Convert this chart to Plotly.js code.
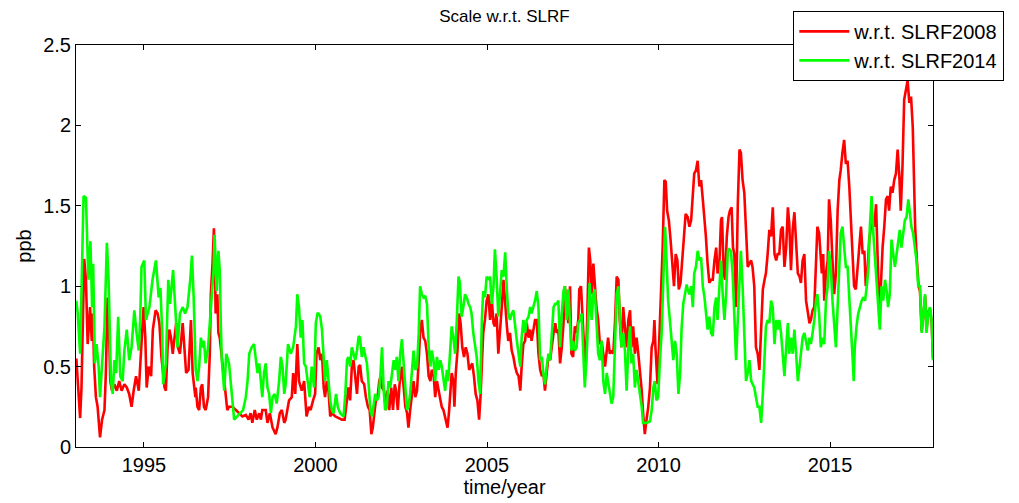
<!DOCTYPE html>
<html>
<head>
<meta charset="utf-8">
<script src="https://cdn.plot.ly/plotly-3.0.1.min.js"></script>
<style>
  html, body { margin: 0; padding: 0; background: #fff; }
  #chart { width: 1019px; height: 503px; }
</style>
</head>
<body>
<div id="chart"></div>
<script>
// scale differences (ppb)
var yearsSlrf2008 = [
  1993.03, 1993.07, 1993.14, 1993.18, 1993.26, 1993.31, 1993.36, 1993.43, 1993.48, 1993.51,
  1993.55, 1993.60, 1993.65, 1993.72, 1993.78, 1993.85, 1993.89, 1993.94, 1993.97, 1994.02,
  1994.07, 1994.14, 1994.21, 1994.28, 1994.35, 1994.43, 1994.50, 1994.57, 1994.64, 1994.70,
  1994.77, 1994.85, 1994.91, 1994.99, 1995.04, 1995.08, 1995.14, 1995.21, 1995.26, 1995.34,
  1995.40, 1995.45, 1995.51, 1995.60, 1995.64, 1995.69, 1995.74, 1995.79, 1995.84, 1995.89,
  1995.94, 1995.99, 1996.05, 1996.13, 1996.18, 1996.23, 1996.30, 1996.37, 1996.42, 1996.50,
  1996.51, 1996.56, 1996.61, 1996.66, 1996.70, 1996.75, 1996.80, 1996.87, 1996.92, 1996.95,
  1997.00, 1997.04, 1997.07, 1997.09, 1997.14, 1997.17, 1997.21, 1997.27, 1997.32, 1997.38,
  1997.43, 1997.48, 1997.58, 1997.68, 1997.77, 1997.87, 1997.97, 1998.05, 1998.11, 1998.16,
  1998.23, 1998.29, 1998.36, 1998.41, 1998.45, 1998.55, 1998.60, 1998.67, 1998.75, 1998.84,
  1998.89, 1998.96, 1999.02, 1999.09, 1999.13, 1999.18, 1999.23, 1999.31, 1999.35, 1999.41,
  1999.47, 1999.52, 1999.60, 1999.67, 1999.74, 1999.81, 1999.86, 1999.93, 1999.99, 2000.03,
  2000.09,
  2000.14, 2000.19, 2000.24, 2000.28, 2000.33, 2000.38, 2000.43, 2000.48, 2000.58, 2000.67,
  2000.77, 2000.85, 2000.92, 2000.96, 2001.01, 2001.06, 2001.11, 2001.16, 2001.21, 2001.26,
  2001.30, 2001.35, 2001.42, 2001.47, 2001.53, 2001.58, 2001.63, 2001.67, 2001.72, 2001.76,
  2001.81, 2001.86, 2001.90, 2001.94, 2002.00, 2002.05, 2002.10, 2002.15, 2002.21, 2002.26,
  2002.31, 2002.35, 2002.40, 2002.45, 2002.52, 2002.57, 2002.62, 2002.67, 2002.71, 2002.76,
  2002.81, 2002.86, 2002.91, 2002.96, 2003.01, 2003.05, 2003.10, 2003.15, 2003.20, 2003.25,
  2003.30, 2003.35, 2003.39, 2003.44, 2003.49, 2003.54, 2003.61,
  2003.68, 2003.73, 2003.80, 2003.85, 2003.89, 2003.94, 2003.97, 2004.02, 2004.05, 2004.09,
  2004.14, 2004.19, 2004.23, 2004.28, 2004.33, 2004.38, 2004.43, 2004.48, 2004.53, 2004.57,
  2004.62, 2004.67, 2004.72, 2004.77, 2004.81, 2004.85, 2004.89, 2004.94, 2004.99, 2005.04,
  2005.09, 2005.14, 2005.19, 2005.23, 2005.28, 2005.33, 2005.38, 2005.43, 2005.48, 2005.53,
  2005.58, 2005.62, 2005.67, 2005.72, 2005.77, 2005.82, 2005.87, 2005.92, 2005.97, 2006.01,
  2006.06, 2006.11, 2006.16, 2006.21, 2006.26, 2006.30, 2006.35, 2006.40, 2006.45, 2006.50,
  2006.55, 2006.60, 2006.64, 2006.69, 2006.74, 2006.79, 2006.84, 2006.89, 2006.94, 2006.99,
  2007.03, 2007.08, 2007.13, 2007.18, 2007.23,
  2007.27, 2007.32, 2007.37, 2007.42, 2007.46, 2007.51, 2007.56, 2007.61, 2007.66, 2007.69,
  2007.74, 2007.78, 2007.82, 2007.87, 2007.92, 2007.97, 2008.01, 2008.05, 2008.10, 2008.14,
  2008.19, 2008.24, 2008.29, 2008.34, 2008.39, 2008.44, 2008.49, 2008.53, 2008.58, 2008.63,
  2008.68, 2008.73, 2008.78, 2008.83, 2008.87, 2008.92, 2008.97, 2009.02, 2009.07, 2009.12,
  2009.17, 2009.21, 2009.26, 2009.31, 2009.36, 2009.41, 2009.46, 2009.51, 2009.55, 2009.60,
  2009.65, 2009.70, 2009.75, 2009.80, 2009.85, 2009.88, 2009.91, 2009.97, 2010.02, 2010.07,
  2010.12, 2010.17, 2010.21, 2010.25, 2010.30, 2010.35, 2010.40, 2010.45, 2010.50, 2010.55,
  2010.59, 2010.64, 2010.69, 2010.74, 2010.79,
  2010.85, 2010.90, 2010.95, 2011.00, 2011.04, 2011.09, 2011.14, 2011.19, 2011.24, 2011.29,
  2011.34, 2011.38, 2011.43, 2011.48, 2011.53, 2011.58, 2011.63, 2011.68, 2011.72, 2011.77,
  2011.82, 2011.85, 2011.90, 2011.94, 2011.99, 2012.04, 2012.08, 2012.13, 2012.17, 2012.21,
  2012.26, 2012.31, 2012.36, 2012.40, 2012.45, 2012.50, 2012.55, 2012.60, 2012.65, 2012.70,
  2012.74, 2012.79, 2012.84, 2012.89, 2012.94, 2012.99, 2013.04, 2013.09, 2013.13, 2013.18,
  2013.23, 2013.28, 2013.33, 2013.38, 2013.43, 2013.47, 2013.52, 2013.57, 2013.62, 2013.67,
  2013.72, 2013.77, 2013.81, 2013.86, 2013.91, 2013.96, 2014.01, 2014.06, 2014.11, 2014.15,
  2014.20, 2014.25, 2014.30, 2014.35, 2014.40,
  2014.44, 2014.49, 2014.54, 2014.59, 2014.63, 2014.68, 2014.73, 2014.76, 2014.80, 2014.83,
  2014.88, 2014.93, 2014.97, 2015.02, 2015.07, 2015.12, 2015.17, 2015.22, 2015.27, 2015.31,
  2015.36, 2015.41, 2015.46, 2015.51, 2015.56, 2015.61, 2015.66, 2015.70, 2015.75, 2015.80,
  2015.85, 2015.90, 2015.95, 2016.00, 2016.04, 2016.09, 2016.14, 2016.19, 2016.24, 2016.29,
  2016.34, 2016.38, 2016.43, 2016.48, 2016.53, 2016.58, 2016.63, 2016.68, 2016.72, 2016.77,
  2016.82, 2016.87, 2016.92, 2016.97, 2017.02, 2017.06, 2017.11, 2017.16, 2017.21, 2017.26,
  2017.31, 2017.36, 2017.41, 2017.45, 2017.48, 2017.53, 2017.58, 2017.62, 2017.67, 2017.72,
  2017.77, 2017.81, 2017.86, 2017.91, 2017.96, 2018.00
];
var ppbSlrf2008 = [
  0.55, 0.41, 0.18, 0.37, 1.17, 1.04, 0.64, 0.87, 0.66, 0.83,
  0.50, 0.31, 0.25, 0.06, 0.17, 0.23, 0.46, 0.93, 0.83, 0.41,
  0.35, 0.39, 0.35, 0.41, 0.35, 0.39, 0.37, 0.33, 0.25, 0.35,
  0.44, 0.35, 0.58, 0.87, 0.68, 0.37, 0.50, 0.44, 0.73, 0.85,
  0.83, 0.77, 0.56, 0.37, 0.35, 0.62, 0.73, 0.68, 0.58, 0.66,
  0.77, 0.62, 0.58, 0.77, 0.62, 0.46, 0.48, 0.79, 0.46, 0.31,
  0.37, 0.25, 0.23, 0.37, 0.39, 0.25, 0.23, 0.31, 0.58, 0.95,
  1.14, 1.36, 1.14, 0.83, 0.95, 0.71, 0.68, 0.56, 0.48, 0.33,
  0.23, 0.25, 0.25, 0.23, 0.21, 0.19, 0.20, 0.17, 0.21, 0.15,
  0.23, 0.17, 0.21, 0.17, 0.23, 0.23, 0.15, 0.21, 0.12, 0.08,
  0.12, 0.21, 0.23, 0.15, 0.17, 0.23, 0.29, 0.31, 0.46, 0.33,
  0.64, 0.41, 0.35, 0.41, 0.19, 0.25, 0.23, 0.29, 0.33, 0.58,
  0.62,
  0.54, 0.58, 0.37, 0.31, 0.41, 0.35, 0.19, 0.21, 0.19, 0.18,
  0.17, 0.17, 0.31, 0.37, 0.29, 0.50, 0.54, 0.41, 0.33, 0.50,
  0.51, 0.41, 0.39, 0.31, 0.25, 0.23, 0.08, 0.12, 0.21, 0.29,
  0.31, 0.41, 0.44, 0.37, 0.35, 0.23, 0.35, 0.23, 0.37, 0.23,
  0.39, 0.35, 0.23, 0.39, 0.50, 0.39, 0.25, 0.21, 0.12, 0.23,
  0.31, 0.41, 0.31, 0.35, 0.54, 0.71, 0.79, 0.68, 0.66, 0.58,
  0.44, 0.41, 0.48, 0.46, 0.31, 0.41, 0.33,
  0.25, 0.23, 0.17, 0.12, 0.21, 0.37, 0.46, 0.41, 0.25, 0.46,
  0.60, 0.83, 0.77, 0.62, 0.56, 0.62, 0.58, 0.48, 0.50, 0.52,
  0.44, 0.33, 0.29, 0.17, 0.31, 0.50, 0.71, 0.79, 0.91, 0.95,
  0.79, 0.91, 0.77, 0.75, 0.83, 0.58, 0.71, 0.87, 1.04, 0.87,
  0.75, 0.66, 0.71, 0.60, 0.56, 0.50, 0.46, 0.44, 0.35, 0.50,
  0.64, 0.66, 0.77, 0.68, 0.73, 0.66, 0.73, 0.79, 0.79, 0.58,
  0.48, 0.44, 0.46, 0.35, 0.46, 0.56, 0.54, 0.64, 0.71, 0.77,
  0.71, 0.73, 0.52, 0.62, 0.77,
  1.00, 0.87, 0.77, 1.00, 0.58, 0.56, 0.75, 0.71, 0.79, 0.98,
  1.00, 0.83, 0.62, 0.46, 0.79, 1.24, 1.16, 0.95, 1.14, 1.00,
  0.87, 0.79, 0.64, 0.66, 0.58, 0.50, 0.60, 0.68, 0.58, 0.60,
  0.58, 0.77, 1.06, 1.04, 0.79, 0.62, 0.87, 0.75, 0.62, 0.79,
  0.85, 0.62, 0.75, 0.58, 0.68, 0.58, 0.48, 0.35, 0.21, 0.08,
  0.17, 0.25, 0.37, 0.62, 0.66, 0.79, 0.62, 0.39, 0.66, 0.95,
  1.24, 1.66, 1.65, 1.47, 1.41, 1.29, 1.14, 1.00, 1.20, 1.16,
  0.98, 1.02, 1.16, 1.33, 1.45,
  1.43, 1.37, 1.41, 1.58, 1.70, 1.72, 1.78, 1.62, 1.66, 1.54,
  1.43, 1.31, 1.14, 1.02, 1.04, 1.04, 1.16, 1.24, 1.08, 1.12,
  1.41, 1.43, 1.08, 1.04, 1.31, 1.43, 1.47, 1.49, 1.24, 1.20,
  0.87, 1.51, 1.85, 1.83, 1.66, 1.58, 1.35, 1.12, 1.14, 1.16,
  1.12, 1.00, 0.62, 0.58, 0.48, 0.79, 0.98, 1.04, 1.08, 1.20,
  1.35, 1.31, 1.49, 1.20, 1.16, 1.20, 1.20, 1.35, 1.37, 1.12,
  1.24, 1.49, 1.39, 1.10, 1.35, 1.46, 1.29, 1.08, 1.06, 1.02,
  1.16, 1.20, 0.91, 0.83, 0.77,
  0.79, 0.85, 0.87, 1.16, 1.37, 1.33, 1.20, 1.08, 1.20, 0.91,
  1.08, 1.16, 1.54, 1.41, 1.16, 0.95, 1.08, 1.47, 1.66, 1.72,
  1.83, 1.91, 1.76, 1.78, 1.62, 1.37, 1.16, 1.00, 0.98, 1.12,
  1.24, 1.37, 1.20, 1.22, 1.00, 1.08, 1.29, 1.37, 1.39, 1.37,
  1.51, 1.16, 0.87, 1.00, 1.24, 1.37, 1.54, 1.56, 1.47, 1.62,
  1.58, 1.66, 1.70, 1.85, 1.68, 1.47, 1.74, 2.16, 2.22, 2.28,
  2.14, 2.18, 1.99, 1.58, 1.37, 1.16, 1.00, 0.97, 0.72, 0.83,
  0.94, 0.72, 0.84, 0.86, 0.78, 0.55
];

var yearsSlrf2014 = [
  1993.03, 1993.07, 1993.14, 1993.18, 1993.24, 1993.31, 1993.38, 1993.44, 1993.49, 1993.52,
  1993.57, 1993.62, 1993.68, 1993.72, 1993.78, 1993.85, 1993.92, 1993.97, 1994.04, 1994.09,
  1994.14, 1994.19, 1994.25, 1994.31, 1994.38, 1994.43, 1994.50, 1994.57, 1994.64, 1994.72,
  1994.79, 1994.85, 1994.89, 1994.93, 1995.01, 1995.06, 1995.16, 1995.25, 1995.35, 1995.43,
  1995.48, 1995.53, 1995.56, 1995.64, 1995.71, 1995.76, 1995.85, 1995.90, 1995.98, 1996.05,
  1996.13, 1996.20, 1996.27, 1996.35, 1996.40, 1996.45,
  1996.51, 1996.56, 1996.61, 1996.66, 1996.70, 1996.75, 1996.80, 1996.87, 1996.92, 1996.98,
  1997.03, 1997.06, 1997.09, 1997.12, 1997.17, 1997.21, 1997.24, 1997.27, 1997.34, 1997.40,
  1997.48, 1997.56, 1997.63, 1997.72, 1997.82, 1997.89, 1997.97, 1998.02, 1998.07, 1998.14,
  1998.21, 1998.26, 1998.31, 1998.36, 1998.41, 1998.45, 1998.50, 1998.55, 1998.60, 1998.65,
  1998.70, 1998.75, 1998.81, 1998.87, 1998.94, 1998.99, 1999.04, 1999.09, 1999.13, 1999.20,
  1999.28, 1999.35, 1999.43, 1999.47, 1999.52, 1999.57, 1999.62, 1999.67, 1999.72, 1999.79,
  1999.83, 1999.89, 1999.96, 2000.01, 2000.06,
  2000.09, 2000.14, 2000.19, 2000.24, 2000.28, 2000.33, 2000.38, 2000.43, 2000.48, 2000.53,
  2000.60, 2000.65, 2000.72, 2000.82, 2000.87, 2000.92, 2000.96, 2001.01, 2001.06, 2001.11,
  2001.16, 2001.21, 2001.26, 2001.30, 2001.35, 2001.40, 2001.45, 2001.50, 2001.55, 2001.60,
  2001.65, 2001.69, 2001.74, 2001.79, 2001.84, 2001.89, 2001.94, 2001.99, 2002.03, 2002.08,
  2002.13, 2002.18, 2002.23, 2002.28, 2002.33, 2002.37, 2002.42, 2002.47, 2002.52, 2002.57,
  2002.62, 2002.67, 2002.71, 2002.76, 2002.81, 2002.86, 2002.91, 2002.96, 2003.01, 2003.05,
  2003.10, 2003.15, 2003.20, 2003.25, 2003.30, 2003.35, 2003.39, 2003.44, 2003.49, 2003.54,
  2003.59, 2003.64,
  2003.68, 2003.73, 2003.78, 2003.83, 2003.87, 2003.92, 2003.97, 2004.02, 2004.07, 2004.12,
  2004.17, 2004.21, 2004.26, 2004.31, 2004.36, 2004.41, 2004.46, 2004.51, 2004.55, 2004.60,
  2004.65, 2004.70, 2004.75, 2004.80, 2004.85, 2004.89, 2004.94, 2004.99, 2005.04, 2005.09,
  2005.14, 2005.19, 2005.23, 2005.28, 2005.33, 2005.38, 2005.43, 2005.48, 2005.53, 2005.58,
  2005.62, 2005.67, 2005.72, 2005.77, 2005.82, 2005.87, 2005.92, 2005.97, 2006.01, 2006.06,
  2006.11, 2006.16, 2006.21, 2006.26, 2006.30, 2006.35, 2006.40, 2006.45, 2006.50, 2006.55,
  2006.60, 2006.64, 2006.69, 2006.74, 2006.79, 2006.84, 2006.89, 2006.94, 2006.99, 2007.03,
  2007.08, 2007.13, 2007.18, 2007.23,
  2007.27, 2007.32, 2007.37, 2007.42, 2007.46, 2007.51, 2007.56, 2007.61, 2007.66, 2007.71,
  2007.76, 2007.80, 2007.85, 2007.90, 2007.95, 2007.99, 2008.05, 2008.10, 2008.14, 2008.19,
  2008.24, 2008.29, 2008.34, 2008.39, 2008.44, 2008.49, 2008.53, 2008.58, 2008.63, 2008.68,
  2008.73, 2008.78, 2008.83, 2008.87, 2008.92, 2008.97, 2009.02, 2009.07, 2009.12, 2009.17,
  2009.21, 2009.26, 2009.31, 2009.36, 2009.41, 2009.46, 2009.51, 2009.55, 2009.65, 2009.75,
  2009.80, 2009.85, 2009.89, 2009.94, 2009.99, 2010.04, 2010.09, 2010.14, 2010.19, 2010.23,
  2010.28, 2010.33, 2010.38, 2010.43, 2010.48, 2010.53, 2010.58, 2010.63, 2010.67, 2010.72,
  2010.77, 2010.82,
  2010.85, 2010.90, 2010.95, 2011.00, 2011.04, 2011.09, 2011.14, 2011.19, 2011.24, 2011.29,
  2011.34, 2011.38, 2011.43, 2011.48, 2011.53, 2011.58, 2011.63, 2011.68, 2011.72, 2011.77,
  2011.82, 2011.87, 2011.92, 2011.97, 2012.02, 2012.06, 2012.11, 2012.16, 2012.21, 2012.26,
  2012.31, 2012.36, 2012.40, 2012.45, 2012.50, 2012.55, 2012.60, 2012.65, 2012.70, 2012.74,
  2012.79, 2012.84, 2012.89, 2012.94, 2012.99, 2013.04, 2013.09, 2013.13, 2013.18, 2013.23,
  2013.28, 2013.33, 2013.38, 2013.43, 2013.47, 2013.52, 2013.57, 2013.62, 2013.67, 2013.72,
  2013.77, 2013.81, 2013.86, 2013.91, 2013.96, 2014.01, 2014.06, 2014.11, 2014.15, 2014.20,
  2014.25, 2014.30, 2014.35, 2014.40,
  2014.44, 2014.49, 2014.54, 2014.59, 2014.63, 2014.68, 2014.73, 2014.78, 2014.83, 2014.88,
  2014.93, 2014.97, 2015.02, 2015.07, 2015.12, 2015.17, 2015.22, 2015.27, 2015.31, 2015.36,
  2015.41, 2015.46, 2015.51, 2015.56, 2015.61, 2015.66, 2015.69, 2015.72, 2015.77, 2015.82,
  2015.87, 2015.92, 2015.97, 2016.02, 2016.07, 2016.12, 2016.16, 2016.21, 2016.26, 2016.31,
  2016.36, 2016.40, 2016.45, 2016.50, 2016.55, 2016.60, 2016.65, 2016.69, 2016.74, 2016.79,
  2016.84, 2016.89, 2016.94, 2016.99, 2017.03, 2017.08, 2017.13, 2017.18, 2017.23, 2017.28,
  2017.33, 2017.37, 2017.42, 2017.47, 2017.52, 2017.57, 2017.62, 2017.67, 2017.72, 2017.77,
  2017.81, 2017.86, 2017.91, 2017.96, 2018.00
];
var ppbSlrf2014 = [
  0.91, 0.83, 0.58, 0.97, 1.56, 1.55, 1.04, 1.28, 0.87, 1.14,
  0.52, 0.64, 0.50, 0.31, 0.50, 0.75, 1.27, 1.04, 0.41, 0.33,
  0.54, 0.46, 0.81, 0.44, 0.41, 0.60, 0.73, 0.54, 0.62, 0.85,
  0.70, 0.60, 0.79, 1.12, 1.16, 0.79, 0.87, 1.04, 1.16, 0.93,
  0.99, 0.73, 0.39, 0.52, 1.04, 0.89, 1.10, 0.93, 0.62, 0.83,
  0.87, 0.83, 0.87, 1.04, 1.19, 0.93,
  0.48, 0.41, 0.50, 0.68, 0.62, 0.66, 0.52, 0.62, 0.79, 0.97,
  1.10, 1.32, 1.18, 0.97, 1.22, 1.10, 0.77, 0.54, 0.35, 0.58,
  0.52, 0.31, 0.17, 0.19, 0.21, 0.23, 0.31, 0.41, 0.58, 0.62,
  0.64, 0.54, 0.46, 0.52, 0.41, 0.31, 0.46, 0.52, 0.37, 0.33,
  0.21, 0.31, 0.33, 0.27, 0.41, 0.56, 0.50, 0.33, 0.39, 0.64,
  0.58, 0.62, 0.75, 0.95, 0.87, 0.68, 0.79, 0.52, 0.50, 0.39,
  0.31, 0.50, 0.37, 0.77, 0.83,
  0.83, 0.81, 0.73, 0.54, 0.41, 0.54, 0.41, 0.29, 0.23, 0.21,
  0.33, 0.25, 0.21, 0.19, 0.33, 0.54, 0.56, 0.50, 0.62, 0.58,
  0.54, 0.60, 0.69, 0.68, 0.56, 0.62, 0.56, 0.52, 0.39, 0.23,
  0.19, 0.25, 0.33, 0.29, 0.31, 0.44, 0.62, 0.35, 0.23, 0.25,
  0.41, 0.37, 0.46, 0.54, 0.48, 0.56, 0.41, 0.58, 0.67, 0.48,
  0.37, 0.23, 0.25, 0.33, 0.46, 0.60, 0.48, 0.50, 0.71, 1.00,
  0.95, 0.93, 0.94, 0.89, 0.62, 0.50, 0.60, 0.54, 0.41, 0.56,
  0.48, 0.54,
  0.50, 0.41, 0.35, 0.48, 0.41, 0.58, 0.75, 0.68, 0.58, 0.79,
  1.06, 1.02, 0.81, 0.87, 0.95, 0.93, 0.89, 0.87, 0.83, 0.71,
  0.62, 0.56, 0.41, 0.33, 0.79, 0.97, 0.93, 1.06, 1.04, 1.06,
  0.89, 1.00, 1.23, 1.06, 0.81, 0.95, 1.10, 1.06, 1.21, 0.97,
  0.83, 0.79, 0.83, 0.85, 0.73, 0.66, 0.58, 0.50, 0.68, 0.79,
  0.71, 0.79, 0.81, 0.87, 0.83, 0.87, 0.91, 0.97, 0.87, 0.54,
  0.56, 0.46, 0.39, 0.50, 0.58, 0.54, 0.71, 0.87, 0.89, 0.89,
  0.91, 0.62, 0.83, 0.97,
  1.00, 0.79, 0.98, 0.79, 0.60, 0.66, 0.60, 0.62, 0.77, 0.79,
  0.83, 0.62, 0.37, 0.54, 0.79, 1.02, 0.79, 0.95, 0.98, 0.75,
  0.58, 0.54, 0.66, 0.41, 0.33, 0.46, 0.41, 0.33, 0.27, 0.31,
  0.66, 0.95, 1.00, 0.79, 0.62, 0.71, 0.60, 0.35, 0.62, 0.75,
  0.52, 0.58, 0.37, 0.48, 0.41, 0.31, 0.25, 0.15, 0.15, 0.16,
  0.23, 0.37, 0.41, 0.29, 0.31, 0.54, 0.71, 1.04, 1.37, 1.18,
  0.91, 0.79, 0.66, 0.54, 0.66, 0.58, 0.33, 0.46, 0.73, 0.89,
  0.95, 1.01,
  0.98, 0.95, 1.00, 0.87, 1.08, 1.12, 1.22, 1.16, 1.18, 1.00,
  0.93, 0.83, 0.73, 0.81, 0.71, 0.69, 0.87, 0.93, 0.79, 0.98,
  1.16, 0.95, 0.79, 0.95, 1.22, 1.23, 1.22, 1.08, 0.79, 0.54,
  0.79, 1.06, 1.22, 1.00, 0.75, 0.41, 0.46, 0.54, 0.41, 0.39,
  0.37, 0.31, 0.25, 0.25, 0.15, 0.33, 0.62, 0.75, 0.79, 0.77,
  0.91, 0.87, 0.64, 0.79, 0.73, 0.79, 0.71, 0.58, 0.44, 0.62,
  0.77, 0.58, 0.68, 0.58, 0.73, 0.58, 0.41, 0.50, 0.58, 0.68,
  0.71, 0.66, 0.60, 0.68,
  0.64, 0.71, 0.79, 0.91, 0.95, 0.83, 0.62, 0.68, 0.64, 0.91,
  1.00, 1.22, 1.12, 0.91, 0.75, 0.62, 0.87, 1.16, 1.33, 1.37,
  1.24, 1.12, 1.12, 0.95, 0.75, 0.54, 0.41, 0.62, 0.75, 0.83,
  0.87, 0.91, 0.93, 0.91, 1.00, 1.12, 1.37, 1.56, 1.33, 1.16,
  1.00, 0.87, 0.73, 1.00, 0.91, 1.04, 0.97, 0.87, 0.95, 1.29,
  1.20, 1.12, 1.20, 1.29, 1.35, 1.24, 1.31, 1.41, 1.43, 1.54,
  1.45, 1.37, 1.33, 1.24, 1.16, 1.00, 1.00, 0.71, 0.83, 0.95,
  0.71, 0.83, 0.87, 0.79, 0.54
];

var slrf2008 = {
  x: yearsSlrf2008,
  y: ppbSlrf2008,
  mode: 'lines',
  name: 'w.r.t. SLRF2008',
  line: {color: '#ff0000', width: 2.6}
};

var slrf2014 = {
  x: yearsSlrf2014,
  y: ppbSlrf2014,
  mode: 'lines',
  name: 'w.r.t. SLRF2014',
  line: {color: '#00ff00', width: 2.6}
};

var axisFont = {family: 'Liberation Sans, Arial, sans-serif', size: 20, color: '#000'};

var layout = {
  width: 1019,
  height: 503,
  margin: {l: 76, r: 86, t: 45, b: 56, autoexpand: false},
  paper_bgcolor: '#fff',
  plot_bgcolor: '#fff',
  font: axisFont,
  title: {
    text: 'Scale w.r.t. SLRF',
    font: {family: 'Liberation Sans, Arial, sans-serif', size: 17, color: '#000'},
    x: 0.495,
    xanchor: 'center',
    y: 0.968,
    yanchor: 'middle'
  },
  xaxis: {
    range: [1993.02, 2018.0],
    tick0: 1995,
    dtick: 5,
    ticks: 'inside',
    ticklen: 5,
    tickcolor: '#000',
    showgrid: false,
    zeroline: false,
    showline: true,
    linecolor: '#000',
    linewidth: 1,
    mirror: 'ticks',
    tickfont: axisFont,
    title: {text: 'time/year', font: axisFont, standoff: 2}
  },
  yaxis: {
    range: [0, 2.5],
    tick0: 0,
    dtick: 0.5,
    ticks: 'inside',
    ticklen: 5,
    tickcolor: '#000',
    showgrid: false,
    zeroline: false,
    showline: true,
    linecolor: '#000',
    linewidth: 1,
    mirror: 'ticks',
    tickfont: axisFont,
    title: {text: 'ppb', font: axisFont, standoff: 6}
  },
  showlegend: true,
  legend: {
    x: 0.837,
    xanchor: 'left',
    y: 1.085,
    yanchor: 'top',
    bgcolor: '#fff',
    bordercolor: '#000',
    borderwidth: 1,
    font: axisFont,
    itemwidth: 50,
    tracegroupgap: 0
  }
};

Plotly.newPlot('chart', [slrf2008, slrf2014], layout, {displayModeBar: false, staticPlot: true});
</script>
</body>
</html>
